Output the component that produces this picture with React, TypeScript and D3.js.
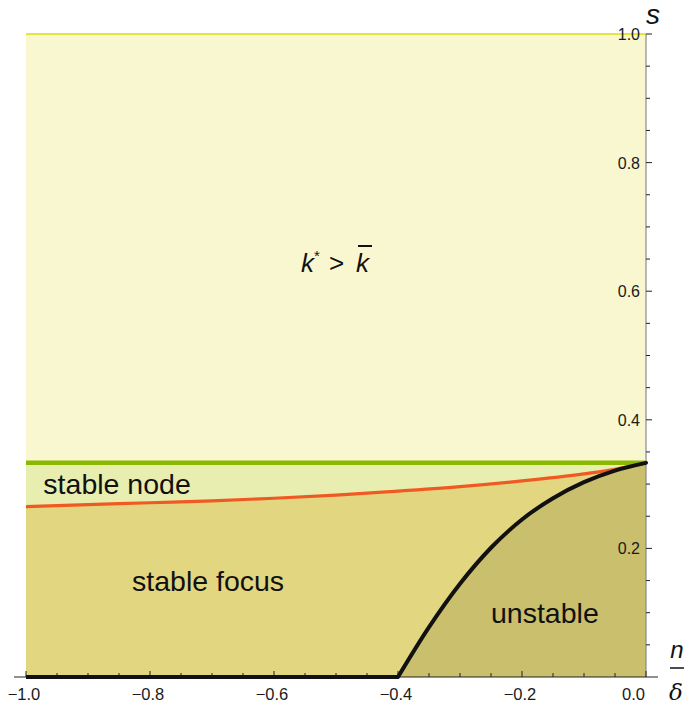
import React, { useEffect, useRef } from "react";
import * as d3 from "d3";

// boundaries: x = n/delta, s = saving rate
const redX = [-1.0, -0.9, -0.8, -0.7, -0.6, -0.5, -0.4, -0.3, -0.2, -0.1, -0.05, 0.0];
const redS = [0.265, 0.268, 0.271, 0.274, 0.278, 0.283, 0.289, 0.296, 0.305, 0.316, 0.323, 0.333];

const blackX = [-0.4, -0.35, -0.3, -0.25, -0.2, -0.15, -0.1, -0.05, 0.0];
const blackS = [0.0, 0.0775, 0.145, 0.201, 0.245, 0.278, 0.303, 0.321, 0.333];

const nodeLevel = 1 / 3;
const topLevel = 1.0;

const xTicks = [-1.0, -0.8, -0.6, -0.4, -0.2, 0.0];
const yTicks = [0.2, 0.4, 0.6, 0.8, 1.0];

const regionLabels = [
  { text: "stable node", x: -0.972, s: 0.285 },
  { text: "stable focus", x: -0.829, s: 0.134 },
  { text: "unstable", x: -0.25, s: 0.084 },
];

const FONT = "Liberation Sans, Arial, sans-serif";

type Pt = { x: number; s: number };

const Chart = () => {
  const width = 684;
  const height = 707;
  const svgRef = useRef<SVGSVGElement>(null);

  useEffect(() => {
    const svg = d3.select(svgRef.current);
    svg.selectAll("*").remove();

    const x = d3.scaleLinear().domain([-1, 0]).range([26, 646]);
    const y = d3.scaleLinear().domain([0, 1]).range([677, 34]);

    const red: Pt[] = redX.map((v, i) => ({ x: v, s: redS[i] }));
    const black: Pt[] = blackX.map((v, i) => ({ x: v, s: blackS[i] }));

    const area = d3
      .area<Pt>()
      .x((d) => x(d.x))
      .y0(y(0))
      .y1((d) => y(d.s))
      .curve(d3.curveMonotoneX);

    const line = d3
      .line<Pt>()
      .x((d) => x(d.x))
      .y((d) => y(d.s))
      .curve(d3.curveMonotoneX);

    // top region
    svg
      .append("rect")
      .attr("x", x(-1))
      .attr("y", y(topLevel))
      .attr("width", x(0) - x(-1))
      .attr("height", y(0) - y(topLevel))
      .attr("fill", "#f9f7cf");

    // stable node band
    svg
      .append("rect")
      .attr("x", x(-1))
      .attr("y", y(nodeLevel))
      .attr("width", x(0) - x(-1))
      .attr("height", y(0) - y(nodeLevel))
      .attr("fill", "#e8eeb0");

    // stable focus
    svg.append("path").datum(red).attr("d", area).attr("fill", "#e2d681");

    // unstable
    svg.append("path").datum(black).attr("d", area).attr("fill", "#c9bf6c");

    // top yellow line
    svg
      .append("line")
      .attr("x1", x(-1))
      .attr("x2", x(0))
      .attr("y1", y(topLevel))
      .attr("y2", y(topLevel))
      .attr("stroke", "#e6e53a")
      .attr("stroke-width", 2);

    // axes
    svg
      .append("line")
      .attr("x1", x(0))
      .attr("x2", x(0))
      .attr("y1", y(1))
      .attr("y2", y(0))
      .attr("stroke", "#8a8a8a")
      .attr("stroke-width", 1.2);

    svg
      .append("line")
      .attr("x1", 14)
      .attr("x2", 658)
      .attr("y1", y(0))
      .attr("y2", y(0))
      .attr("stroke", "#222")
      .attr("stroke-width", 1.2);

    const isMajor = (list: number[], d: number) => list.some((t) => Math.abs(t - d) < 1e-6);

    svg
      .append("g")
      .selectAll("line")
      .data(d3.range(-1, 0.0001, 0.05))
      .join("line")
      .attr("x1", (d) => x(d))
      .attr("x2", (d) => x(d))
      .attr("y1", y(0))
      .attr("y2", (d) => y(0) - (isMajor(xTicks, d) ? 6 : 4))
      .attr("stroke", "#222")
      .attr("stroke-width", 1);

    svg
      .append("g")
      .selectAll("line")
      .data(d3.range(0.05, 1.0001, 0.05))
      .join("line")
      .attr("x1", x(0))
      .attr("x2", (d) => x(0) + (isMajor(yTicks, d) ? 6 : 4))
      .attr("y1", (d) => y(d))
      .attr("y2", (d) => y(d))
      .attr("stroke", "#222")
      .attr("stroke-width", 1);

    const fmt = (v: number) => (v < 0 ? "\u2212" : "") + Math.abs(v).toFixed(1);

    svg
      .append("g")
      .attr("font-family", FONT)
      .attr("font-size", 16.5)
      .attr("fill", "#1a1a1a")
      .selectAll("text")
      .data(xTicks)
      .join("text")
      .attr("text-anchor", (d) => (d === 0 ? "end" : "middle"))
      .attr("x", (d) => (d === 0 ? x(d) - 1 : x(d) - 2))
      .attr("y", 700)
      .text(fmt);

    svg
      .append("g")
      .attr("font-family", FONT)
      .attr("font-size", 16)
      .attr("fill", "#1a1a1a")
      .attr("text-anchor", "end")
      .selectAll("text")
      .data(yTicks)
      .join("text")
      .attr("x", x(0) - 6)
      .attr("y", (d) => y(d) + 6)
      .text(fmt);

    // boundary lines
    svg
      .append("line")
      .attr("x1", x(-1))
      .attr("x2", x(0))
      .attr("y1", y(nodeLevel))
      .attr("y2", y(nodeLevel))
      .attr("stroke", "#8bb800")
      .attr("stroke-width", 4.5);

    svg
      .append("path")
      .datum(red)
      .attr("d", line)
      .attr("fill", "none")
      .attr("stroke", "#f05a22")
      .attr("stroke-width", 3.2);

    svg
      .append("line")
      .attr("x1", x(-1))
      .attr("x2", x(blackX[0]))
      .attr("y1", y(0))
      .attr("y2", y(0))
      .attr("stroke", "#111")
      .attr("stroke-width", 4);

    svg
      .append("path")
      .datum(black)
      .attr("d", line)
      .attr("fill", "none")
      .attr("stroke", "#111")
      .attr("stroke-width", 4)
      .attr("stroke-linecap", "round");

    // region labels
    svg
      .append("g")
      .attr("font-family", FONT)
      .attr("font-size", 28.5)
      .attr("fill", "#111")
      .selectAll("text")
      .data(regionLabels)
      .join("text")
      .attr("x", (d) => x(d.x))
      .attr("y", (d) => y(d.s))
      .text((d) => d.text);

    const k = svg
      .append("text")
      .attr("font-family", FONT)
      .attr("font-size", 26)
      .attr("fill", "#111")
      .attr("x", 301)
      .attr("y", 272);
    k.append("tspan").attr("font-style", "italic").text("k");
    k.append("tspan").attr("font-size", 15).attr("dy", -11).text("*");
    k.append("tspan").attr("dy", 11).attr("x", 329).text(">");

    const kbar = svg
      .append("text")
      .attr("font-family", FONT)
      .attr("font-size", 26)
      .attr("font-style", "italic")
      .attr("fill", "#111")
      .attr("x", 356)
      .attr("y", 272)
      .text("k");
    const kb = (kbar.node() as SVGTextElement).getBBox();
    svg
      .append("line")
      .attr("x1", kb.x + 2)
      .attr("x2", kb.x + kb.width + 1)
      .attr("y1", 246)
      .attr("y2", 246)
      .attr("stroke", "#111")
      .attr("stroke-width", 2);

    // axis labels
    svg
      .append("text")
      .attr("x", 646)
      .attr("y", 24)
      .attr("font-family", FONT)
      .attr("font-style", "italic")
      .attr("font-size", 28)
      .attr("fill", "#111")
      .text("s");

    svg
      .append("text")
      .attr("x", 677)
      .attr("y", 658)
      .attr("text-anchor", "middle")
      .attr("font-family", FONT)
      .attr("font-style", "italic")
      .attr("font-size", 24)
      .attr("fill", "#111")
      .text("n");
    svg
      .append("line")
      .attr("x1", 670)
      .attr("x2", 684)
      .attr("y1", 668)
      .attr("y2", 668)
      .attr("stroke", "#111")
      .attr("stroke-width", 1.5);
    svg
      .append("text")
      .attr("x", 676)
      .attr("y", 700)
      .attr("text-anchor", "middle")
      .attr("font-family", "DejaVu Serif, serif")
      .attr("font-style", "italic")
      .attr("font-size", 23)
      .attr("fill", "#111")
      .text("δ");
  }, []);

  return <svg ref={svgRef} width={width} height={height} />;
};

export default function App() {
  return (
    <div style={{ position: "absolute", left: 0, top: 0, background: "white" }}>
      <Chart />
    </div>
  );
}
